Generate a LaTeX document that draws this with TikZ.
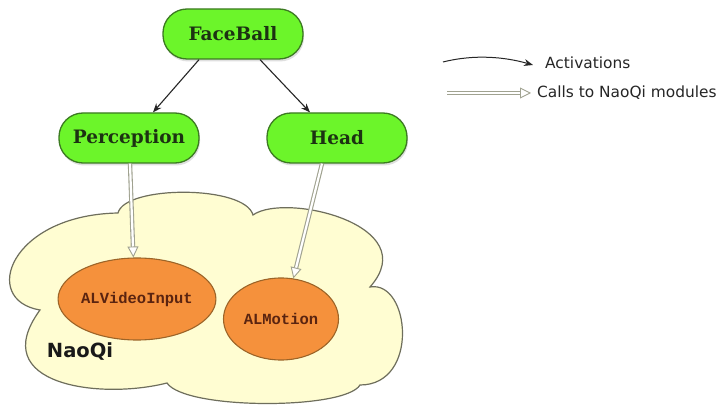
\documentclass[tikz,border=0pt]{standalone}
\usepackage{fontspec}
\setmainfont{DejaVu Serif}
\newfontfamily\legendfont{DejaVu Sans}
\newfontfamily\modfont{Liberation Mono}
\usetikzlibrary{arrows.meta,calc,decorations.markings,shadows,shapes.geometric}
\definecolor{boxgreen}{HTML}{6CF52A}
\definecolor{boxgreenline}{HTML}{3C7A22}
\definecolor{boxtext}{HTML}{1C3212}
\definecolor{modorange}{HTML}{F5913C}
\definecolor{modline}{HTML}{9C6428}
\definecolor{modtext}{HTML}{5A2410}
\definecolor{cloudfill}{HTML}{FFFDD2}
\definecolor{cloudline}{HTML}{6E6E5C}
\definecolor{callgray}{HTML}{A0A290}
\tikzset{
  behav/.style={draw=boxgreenline, line width=1.3pt, fill=boxgreen, rounded corners=24pt,
    minimum width=140pt, minimum height=50pt, inner sep=0pt,
    font=\fontsize{18.5}{20}\selectfont\bfseries, text=boxtext,
    drop shadow={shadow xshift=1pt, shadow yshift=-2.5pt, opacity=.25}},
  module/.style={ellipse, draw=modline, line width=1.1pt, fill=modorange,
    minimum width=115pt, minimum height=82pt, inner sep=0pt,
    font=\modfont\bfseries\fontsize{15.5}{17}\selectfont, text=modtext},
  activ/.style={draw=black!85, line width=1.1pt, -{Stealth[length=9pt,width=7pt]}},
  callshaft/.style={draw=callgray, double=white, double distance=2.2pt, line width=1.1pt, shorten >=8pt},
  calltip/.style={postaction={decorate}, decoration={markings,
    mark=at position 1 with {\arrow[callgray, line width=0.9pt]{Triangle[open, length=11pt, width=11pt, fill=white]}}}},
  cloudshape/.style={draw=cloudline, line width=1.2pt, fill=cloudfill},
  legendtext/.style={font=\legendfont\fontsize{15.4}{17}\selectfont, text=black!85, anchor=west, inner sep=0pt}
}
\begin{document}
\begin{tikzpicture}[x=1pt, y=-1pt]
\useasboundingbox (0,0) rectangle (721,406);
\fill[white] (0,0) rectangle (721,406);
% NaoQi cloud
\draw[cloudshape] (40,310)
  .. controls (-20,300) and (10,215) .. (118,213)
  .. controls (125,185) and (245,185) .. (253,215)
  .. controls (285,192) and (425,225) .. (370,287)
  .. controls (410,280) and (420,385) .. (360,385)
  .. controls (345,410) and (185,410) .. (167,383)
  .. controls (100,400) and (-15,385) .. cycle;
\node[font=\legendfont\bfseries\fontsize{19.5}{21}\selectfont, text=black!90] (naoqi) at (80,352) {NaoQi};
% nodes
\node[behav] (face) at (233,34) {FaceBall};
\node[behav] (perc) at (129,138) {Perception};
\node[behav] (head) at (337,138) {Head};
\node[module] (vid) at (137,299) {ALVideoInput};
\node[module] (mot) at (281,319) {ALMotion};
% activations
\draw[activ] ($(face.south)+(-34,0)$) -- ($(perc.north)+(24,0)$);
\draw[activ] ($(face.south)+(27,0)$) -- ($(head.north)+(-27,0)$);
% calls
\draw[callshaft] ($(perc.south)+(1,0)$) -- (vid.95);
\path[calltip] ($(perc.south)+(1,0)$) -- (vid.95);
\draw[callshaft] ($(head.south)+(-15,0)$) -- (mot.73);
\path[calltip] ($(head.south)+(-15,0)$) -- (mot.73);
% legend
\coordinate (la1) at (443,62);
\coordinate (la2) at (533,65);
\coordinate (lc1) at (447,93);
\coordinate (lc2) at (531,93);
\draw[activ, line width=1pt] (la1) .. controls (475,54) and (505,57) .. (la2);
\node[legendtext] (lta) at (545,63) {Activations};
\draw[callshaft] (lc1) -- (lc2);
\path[calltip] (lc1) -- (lc2);
\node[legendtext] (ltc) at (537,93) {Calls to NaoQi modules};
\end{tikzpicture}
\end{document}
